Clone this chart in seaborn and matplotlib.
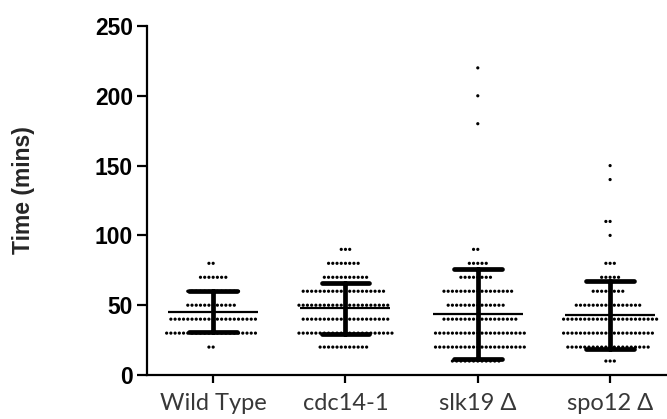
import numpy as np
import pandas as pd
import matplotlib
matplotlib.use("Agg")
import matplotlib.pyplot as plt
import seaborn as sns

# ---- data ----
groups = ["Wild Type", "cdc14-1", "slk19 Δ", "spo12 Δ"]

wt_values = [20, 30, 40, 50, 60, 70, 80]
wt_counts = [2, 22, 21, 12, 13, 7, 2]

cdc_values = [20, 30, 40, 50, 60, 70, 80, 90]
cdc_counts = [12, 23, 21, 22, 20, 11, 8, 3]

slk_values = [10, 20, 30, 40, 50, 60, 70, 80, 90, 180, 200, 220]
slk_counts = [12, 22, 22, 18, 14, 17, 8, 5, 2, 1, 1, 1]

spo_values = [10, 20, 30, 40, 50, 60, 70, 80, 100, 110, 140, 150]
spo_counts = [3, 20, 22, 23, 16, 8, 5, 3, 1, 2, 1, 1]

yticks = [0, 50, 100, 150, 200, 250]

series = [(wt_values, wt_counts), (cdc_values, cdc_counts),
          (slk_values, slk_counts), (spo_values, spo_counts)]
rows = []
for g, (vals, cnts) in zip(groups, series):
    for v in np.repeat(vals, cnts):
        rows.append((g, float(v)))
df = pd.DataFrame(rows, columns=["group", "time"])

# ---- figure ----
sns.set_theme(style="ticks")
W, H = 667, 419
fig = plt.figure(figsize=(W / 100, H / 100), dpi=100)
ax = fig.add_axes([147 / W, 44 / H, (W - 147) / W, 349 / H])

sns.swarmplot(data=df, x="group", y="time", order=groups, ax=ax,
              color="black", size=2.3, linewidth=0.6, edgecolor="none",
              zorder=2)
sns.pointplot(data=df, x="group", y="time", order=groups, ax=ax,
              estimator="mean", errorbar="sd", capsize=0.36, color="black",
              linestyle="none", marker="_", markersize=65,
              markeredgewidth=1.6, err_kws={"linewidth": 3.4}, zorder=3)

ax.set_xlim(-0.5, 3.43)
ax.set_ylim(0, 250)
ax.set_yticks(yticks)
ax.set_yticklabels([str(t) for t in yticks])

for s in ["top", "right"]:
    ax.spines[s].set_visible(False)
for s in ["left", "bottom"]:
    ax.spines[s].set_linewidth(1.6)
    ax.spines[s].set_color("black")

ax.tick_params(axis="y", length=7, width=1.6, pad=3, colors="black")
ax.tick_params(axis="x", length=6, width=1.6, pad=7, colors="black")

for lab in ax.get_yticklabels():
    lab.set_fontfamily("Liberation Sans")
    lab.set_fontweight("bold")
    lab.set_fontsize(16.5)
for lab in ax.get_xticklabels():
    lab.set_fontfamily(["Lato", "DejaVu Sans"])
    lab.set_fontsize(17)
    lab.set_color("#383838")

ax.set_xlabel("")
ax.set_ylabel("Time (mins)", fontfamily="Liberation Sans", fontweight="bold",
              fontsize=16.5)
ax.yaxis.set_label_coords((35 - 147) / (W - 147), 0.53)

fig.savefig("out.png", dpi=100)
